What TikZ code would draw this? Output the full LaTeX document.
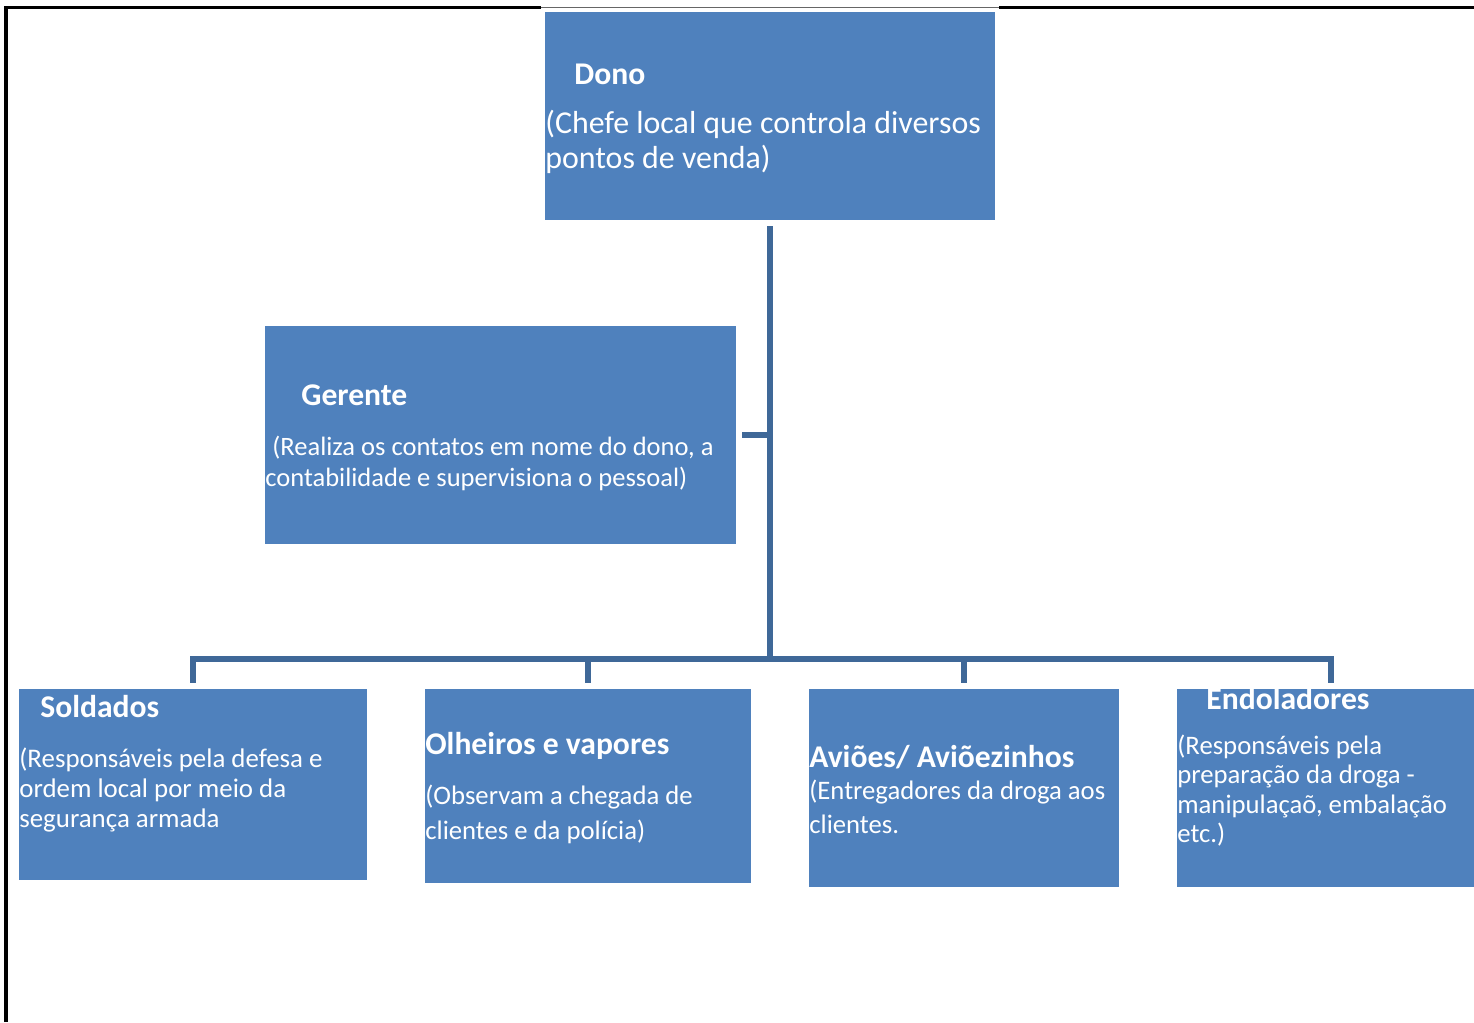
\documentclass[tikz,border=0pt]{standalone}
\usepackage{fontspec}
\setmainfont{Carlito}
\usetikzlibrary{positioning}
\definecolor{boxblue}{HTML}{4F81BD}
\definecolor{linkblue}{HTML}{3F6898}
\tikzset{
  box/.style={rectangle, fill=boxblue, inner sep=0pt},
  title/.style={anchor=base west, inner sep=0pt, text=white, font=\fontsize{18}{20}\selectfont\bfseries},
  body/.style={anchor=base west, inner sep=0pt, text=white, align=left},
  link/.style={draw=linkblue, line width=3pt},
  frame/.style={draw=black, line width=2.2pt},
}

\begin{document}
\begin{tikzpicture}[x=0.02cm, y=-0.02cm]
\useasboundingbox (0,0) rectangle (1474,1022);
% page frame
\draw[frame] (6,1022) -- (6,7.5) -- (541,7.5);
\draw[frame] (999,7.5) -- (1474,7.5);
\draw[black!60, line width=0.5pt] (541,7.5) -- (999,7.5);

% Boxes
\node[box, minimum width=9cm, minimum height=4.16cm] (dono) at (770,116) {};
\node[box, minimum width=9.42cm, minimum height=4.36cm] (gerente) at (500.5,435) {};
\node[box, minimum width=6.96cm, minimum height=3.82cm] (sold) at (193,784.5) {};
\node[box, minimum width=6.52cm, minimum height=3.88cm] (olh) at (588,786) {};
\node[box, minimum width=6.2cm, minimum height=3.96cm] (avi) at (964,788) {};
\node[box, minimum width=6.16cm, minimum height=3.96cm] (endo) at (1331,788) {};

% Texts (body nodes sit on the baseline of their last line)
\node[title] (donoT) at (574,84) {Dono};
\node[body, font=\fontsize{18.15}{19.8}\selectfont] (donoB) at (545,168)
  {(Chefe local que controla diversos\\pontos de venda)};
\node[title] (gerT) at (301,405) {Gerente};
\node[body, font=\fontsize{15.1}{17.6}\selectfont] (gerB) at (265,486)
  {\hspace*{4pt}(Realiza os contatos em nome do dono, a\\contabilidade e supervisiona o pessoal)};
\node[title] (soldT) at (40,717) {Soldados};
\node[body, font=\fontsize{15.3}{17}\selectfont] (soldB) at (19,827)
  {(Responsáveis pela defesa e\\ordem local por meio da\\segurança armada};
\node[title] (olhT) at (425,754) {Olheiros e vapores};
\node[body, font=\fontsize{15.2}{19.8}\selectfont] (olhB) at (425,839)
  {(Observam a chegada de\\clientes e da polícia)};
\node[title] (aviT) at (809,767) {Aviões/ Aviõezinhos};
\node[body, font=\fontsize{15.2}{19.3}\selectfont] (aviB) at (809,833)
  {(Entregadores da droga aos\\clientes.};
\node[title] (endoT) at (1206,709) {Endoladores};
\node[body, font=\fontsize{15.2}{16.7}\selectfont] (endoB) at (1177,842.5)
  {(Responsáveis pela\\preparação da droga -\\manipulaçaõ, embalação\\etc.)};

% Connectors
\coordinate (hub) at (770,659);
\draw[link] ([yshift=-0.12cm]dono.south) -- (hub);
\draw[link] ([xshift=0.12cm]gerente.east) -- (gerente.east -| hub);
\draw[link] ([yshift=0.12cm]sold.north) -- (sold.north |- hub) -- (endo.north |- hub) -- ([yshift=0.12cm]endo.north);
\foreach \n in {olh,avi}
  \draw[link] (\n.north |- hub) -- ([yshift=0.12cm]\n.north);
\end{tikzpicture}
\end{document}
